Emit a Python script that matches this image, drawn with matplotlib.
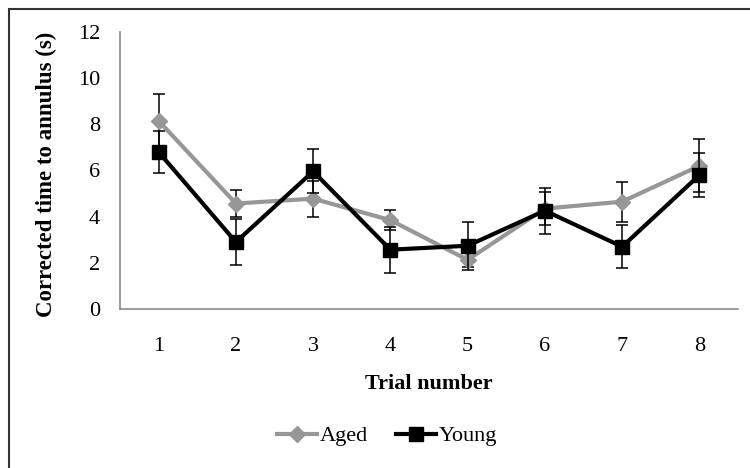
import matplotlib
matplotlib.use('Agg')
import matplotlib.pyplot as plt
from matplotlib.patches import Rectangle
from matplotlib.lines import Line2D

# data
trials = [1, 2, 3, 4, 5, 6, 7, 8]
aged = [8.15, 4.57, 4.78, 3.85, 2.13, 4.35, 4.65, 6.2]
aged_err = [1.15, 0.6, 0.78, 0.43, 0.33, 0.72, 0.87, 1.15]
young = [6.8, 2.9, 5.96, 2.57, 2.74, 4.26, 2.7, 5.8]
young_err = [0.93, 1.0, 0.95, 1.0, 1.03, 1.0, 0.93, 0.95]

plt.rcParams['font.family'] = ['Liberation Serif', 'DejaVu Serif']

fig = plt.figure(figsize=(7.5, 4.68), dpi=100)
ax = fig.add_axes([0.16, 0.3397, 0.824, 0.592])

grey = '#979797'
ax.errorbar(trials, aged, yerr=aged_err, color=grey, lw=3, marker='D', ms=8,
            mfc=grey, mec=grey, ecolor='black', elinewidth=1.1, capsize=4,
            capthick=1.1, label='Aged', zorder=2)
ax.errorbar(trials, young, yerr=young_err, color='black', lw=3, marker='s', ms=10,
            ecolor='black', elinewidth=1.1, capsize=4, capthick=1.1,
            label='Young', zorder=3)

ax.set_xlim(0.5, 8.5)
ax.set_ylim(0, 12)
ax.set_yticks(range(0, 13, 2))
ax.set_xticks(trials)
ax.tick_params(length=0, labelsize=16)
ax.tick_params(axis='y', pad=14.5)
ax.tick_params(axis='x', pad=20)

for s in ['top', 'right']:
    ax.spines[s].set_visible(False)
for s in ['left', 'bottom']:
    ax.spines[s].set_color('#8c8c8c')
    ax.spines[s].set_linewidth(1.2)

ax.set_xlabel('Trial number', fontsize=16, fontweight='bold')
ax.set_ylabel('Corrected time to annulus (s)', fontsize=16.5, fontweight='bold')
ax.xaxis.set_label_coords(0.5, -0.235)
ax.yaxis.set_label_coords(-0.102, 0.487)

# legend: handles without error bars
handles = [Line2D([], [], color=grey, lw=3, marker='D', ms=8),
           Line2D([], [], color='black', lw=3, marker='s', ms=10)]
fig.legend(handles, ['Aged', 'Young'], loc='center', bbox_to_anchor=(387 / 750, 1 - 436 / 468),
           ncol=2, frameon=False, fontsize=16, handlelength=1.8, handletextpad=0.1,
           columnspacing=1.3)

# outer frame of the original figure
fig.patches.append(Rectangle((9 / 750, -0.1), 1.2, 1 - 9 / 468 + 0.1, transform=fig.transFigure,
                             fill=False, edgecolor='#333333', lw=1.5))

fig.savefig('out.png', dpi=100)
